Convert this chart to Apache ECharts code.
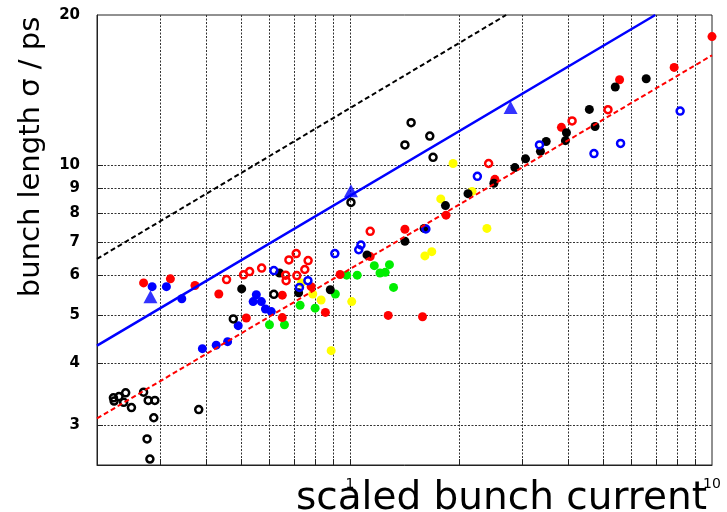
<!DOCTYPE html>
<html>
<head>
<meta charset="utf-8">
<script src="https://cdn.jsdelivr.net/npm/echarts@6/dist/echarts.min.js"></script>
<style>
html,body{margin:0;padding:0;background:#fff;}
#chart{width:727px;height:512px;}
</style>
</head>
<body>
<div id="chart"></div>
<script>
// ---- axis ticks / labels ----
const xGridValues = [0.3,0.4,0.5,0.6,0.7,0.8,0.9,1,2,3,4,5,6,7,8,9];
const xTickLabels = [1,10];
const yGridValues = [3,4,5,6,7,8,9,10];
const yTickLabels = [3,4,5,6,7,8,9,10,20];

// ---- data (x = scaled bunch current, y = bunch length / ps) ----
const blackOpen = [[0.222,3.41],[0.223,3.36],[0.230,3.43],[0.240,3.49],[0.237,3.34],[0.249,3.26],[0.269,3.50],[0.277,3.37],[0.289,3.37],[0.287,3.11],[0.275,2.82],[0.280,2.57],[0.382,3.23],[0.476,4.91],[0.616,5.50],[1.006,8.41],[1.475,12.16],[1.661,11.43],[1.418,10.97],[1.696,10.36]];
const blackFilled = [[0.502,5.64],[0.639,6.07],[0.721,5.54],[0.882,5.62],[1.114,6.60],[1.418,7.03],[1.602,7.46],[1.835,8.29],[2.118,8.76],[2.497,9.19],[2.854,9.88],[3.054,10.29],[3.358,10.65],[3.483,11.15],[3.936,11.19],[3.962,11.61],[4.583,12.93],[4.752,11.95],[5.404,14.34],[6.58,14.9]];
const redFilled = [[0.269,5.80],[0.319,5.91],[0.373,5.73],[0.434,5.51],[0.517,4.93],[0.650,5.48],[0.650,4.94],[0.781,5.70],[0.855,5.06],[0.939,6.03],[1.137,6.55],[1.275,4.99],[1.586,4.96],[1.418,7.43],[1.842,7.93],[2.513,9.36],[3.837,11.9],[5.555,14.83],[7.86,15.7],[10,18.1]];
const redOpen = [[0.456,5.89],[0.508,6.02],[0.528,6.11],[0.570,6.21],[0.678,6.45],[0.710,6.64],[0.766,6.43],[0.750,6.17],[0.713,6.00],[0.664,6.01],[0.666,5.86],[1.137,7.36],[2.415,10.07],[4.107,12.26],[5.16,12.91]];
const blueFilled = [[0.284,5.70],[0.311,5.70],[0.343,5.39],[0.551,5.49],[0.540,5.32],[0.569,5.32],[0.584,5.14],[0.606,5.08],[0.491,4.76],[0.391,4.28],[0.427,4.35],[0.459,4.42]];
const blueOpen = [[0.616,6.14],[0.765,5.86],[0.725,5.68],[0.908,6.64],[1.057,6.76],[1.072,6.91],[1.62,7.44],[2.248,9.49],[3.337,10.97],[4.72,10.54],[5.59,11.05],[8.165,12.83]];
const blueTriangles = [[0.281,5.44],[1.006,8.88],[2.777,13.05]];
const greenFilled = [[0.599,4.78],[0.659,4.78],[0.728,5.23],[0.801,5.16],[0.911,5.51],[0.979,6.01],[1.047,6.01],[1.167,6.28],[1.285,6.31],[1.210,6.07],[1.251,6.09],[1.319,5.68]];
const yellowFilled = [[0.734,5.80],[0.789,5.51],[0.832,5.36],[0.887,4.24],[1.011,5.32],[1.61,6.57],[1.682,6.70],[1.781,8.55],[1.926,10.07],[2.173,8.85],[2.389,7.46]];

// ---- fitted / reference lines ----
const blueFit = [[0.2,4.34],[6.97,20]];
const redFit = [[0.2,3.10],[10,16.6]];
const blackFit = [[0.2,6.48],[2.70,20]];

const chart = echarts.init(document.getElementById('chart'), null, {renderer:'canvas'});

function filled(name, data, color, size) {
  return {name, type:'scatter', data, symbol:'circle', symbolSize:size||9,
    itemStyle:{color:color, opacity:1}, silent:true};
}
function open(name, data, color) {
  return {name, type:'scatter', data, symbol:'circle', symbolSize:7,
    itemStyle:{color:'rgba(255,255,255,0)', borderColor:color, borderWidth:2.5, opacity:1}, silent:true};
}
function fit(name, data, color, width, type) {
  return {name, type:'line', data, symbol:'none', showSymbol:false, silent:true,
    lineStyle:{color:color, width:width, type:type}, z:5};
}

const option = {
  animation:false,
  backgroundColor:'#fff',
  grid:{left:97, right:15, top:15, bottom:47, show:true, borderColor:'#222', borderWidth:1, backgroundColor:'transparent'},
  xAxis:{
    type:'log', logBase:10, min:0.2, max:10,
    axisLine:{show:true, onZero:false, lineStyle:{color:'#222', width:1}},
    axisTick:{show:true, inside:true, length:6, customValues:xGridValues, lineStyle:{color:'#222', width:1}},
    minorTick:{show:false},
    axisLabel:{customValues:xTickLabels, formatter:function(v){return String(Math.round(v));}, margin:12, fontSize:14, color:'#000', fontFamily:'DejaVu Sans'},
    splitLine:{show:true, lineStyle:{type:[2,1.5], color:'#333', width:1}}
  },
  yAxis:{
    type:'log', logBase:10, min:2.5, max:20,
    axisLine:{show:true, onZero:false, lineStyle:{color:'#222', width:1}},
    axisTick:{show:true, inside:true, length:6, customValues:yGridValues, lineStyle:{color:'#222', width:1}},
    minorTick:{show:false},
    axisLabel:{customValues:yTickLabels, formatter:function(v){return String(Math.round(v));}, margin:17, fontSize:15, fontWeight:'bold', color:'#000', fontFamily:'DejaVu Sans'},
    splitLine:{show:true, lineStyle:{type:[2,1.5], color:'#333', width:1}}
  },
  graphic:[
    {type:'text', x:31, y:157, rotation:Math.PI/2, silent:true,
      style:{text:'bunch length σ / ps', font:'29px "DejaVu Sans"', fill:'#000', align:'center', verticalAlign:'middle', textAlign:'center', textVerticalAlign:'middle'}},
    {type:'text', x:707, y:499, silent:true,
      style:{text:'scaled bunch current', font:'39px "DejaVu Sans"', fill:'#000', align:'right', verticalAlign:'middle', textAlign:'right', textVerticalAlign:'middle'}}
  ],
  series:[
    filled('green', greenFilled, '#00ee00'),
    filled('yellow', yellowFilled, '#ffff00'),
    filled('red', redFilled, '#ff0000'),
    filled('blue', blueFilled, '#0000ff'),
    filled('black', blackFilled, '#000000'),
    open('red open', redOpen, '#ff0000'),
    open('blue open', blueOpen, '#0000ff'),
    open('black open', blackOpen, '#000000'),
    fit('black fit', blackFit, '#000000', 2, [5,3]),
    fit('red fit', redFit, '#ff0000', 2, [5,3]),
    fit('blue fit', blueFit, '#0000ff', 2.5, 'solid'),
    {name:'blue triangles', type:'scatter', data:blueTriangles, symbol:'triangle', symbolSize:[14,13],
      itemStyle:{color:'#0000ff'}, silent:true, z:6}
  ]
};
chart.setOption(option);
</script>
</body>
</html>
